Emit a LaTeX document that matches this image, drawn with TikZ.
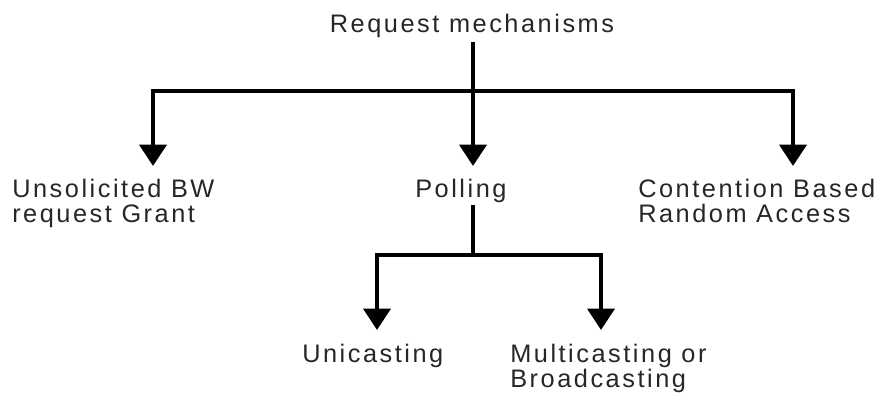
\documentclass[tikz,border=0pt]{standalone}
\usepackage{fontspec}
\setmainfont[LetterSpace=10]{Liberation Sans}
\usetikzlibrary{arrows.meta}

\begin{document}
\begin{tikzpicture}[x=0.75pt, y=-0.75pt,
	lbl/.style = {inner sep=0pt, align=left, text=black!85, font=\fontsize{19pt}{18.75pt}\selectfont},
	branch/.style = {line width=3.4pt},
	arrowline/.style = {branch, -{Triangle[width=20pt,length=16pt]}}]
	\useasboundingbox (0,0) rectangle (891,397);
	% labels
	\node [lbl, anchor=base] (root) at (472,32) {Request mechanisms};
	\node [lbl, anchor=base west] (ubr) at (12,222) {Unsolicited BW\\request Grant};
	\node [lbl, anchor=base west] (poll) at (415,197) {Polling};
	\node [lbl, anchor=base west] (cbra) at (638,222) {Contention Based\\Random Access};
	\node [lbl, anchor=base west] (uni) at (302,362) {Unicasting};
	\node [lbl, anchor=base west] (multi) at (510,387) {Multicasting or\\Broadcasting};
	% junctions and arrow tips
	\coordinate (jtop) at (473,91);
	\coordinate (jpoll) at (473,255);
	\coordinate (tipubr) at (153,166);
	\coordinate (tippoll) at (473,166);
	\coordinate (tipcbra) at (793,166);
	\coordinate (tipuni) at (377,330);
	\coordinate (tipmulti) at (601,330);
	% first level
	\draw [branch] (root.south -| jtop) ++(0,4) -- (jtop);
	\draw [arrowline] (jtop) -| (tipubr);
	\draw [arrowline] (jtop) -| (tipcbra);
	\draw [arrowline] (jtop) -- (tippoll);
	% second level
	\draw [branch] (jpoll |- poll.south) ++(0,2) -- (jpoll);
	\draw [arrowline] (jpoll) -| (tipuni);
	\draw [arrowline] (jpoll) -| (tipmulti);
\end{tikzpicture}
\end{document}
